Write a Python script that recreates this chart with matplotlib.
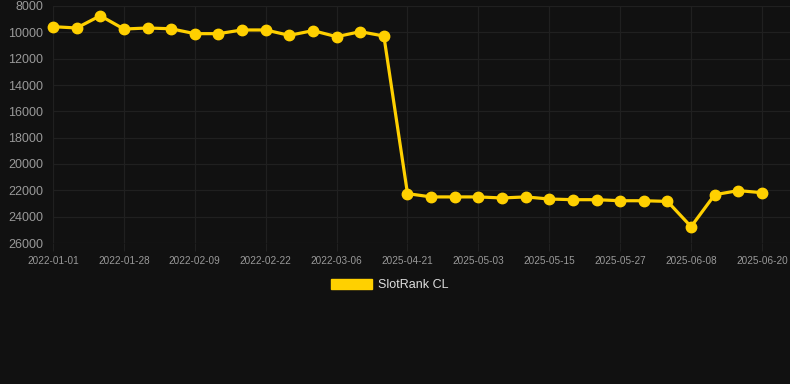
import matplotlib
matplotlib.use("Agg")
import matplotlib.pyplot as plt
from matplotlib.patches import Patch

plt.rcParams['font.family'] = ['Liberation Sans', 'DejaVu Sans']

dates = ["2022-01-01", "2022-01-10", "2022-01-19", "2022-01-28", "2022-02-01",
         "2022-02-05", "2022-02-09", "2022-02-13", "2022-02-18", "2022-02-22",
         "2022-02-26", "2022-03-02", "2022-03-06", "2022-03-10", "2022-03-14",
         "2025-04-21", "2025-04-25", "2025-04-29", "2025-05-03", "2025-05-07",
         "2025-05-11", "2025-05-15", "2025-05-19", "2025-05-23", "2025-05-27",
         "2025-05-31", "2025-06-04", "2025-06-08", "2025-06-12", "2025-06-16",
         "2025-06-20"]
ranks = [9570, 9670, 8740, 9750, 9670, 9730, 10100, 10100, 9820, 9820,
         10230, 9870, 10330, 9950, 10280,
         22250, 22500, 22500, 22500, 22580, 22500, 22660, 22710, 22710,
         22790, 22790, 22840, 24760, 22330, 22020, 22180]
series_name = "SlotRank CL"
y_ticks = [8000, 10000, 12000, 14000, 16000, 18000, 20000, 22000, 24000, 26000]

bg = "#111111"
grid_c = "#202020"
line_c = "#FFD000"

fig = plt.figure(figsize=(7.9, 3.84), dpi=100, facecolor=bg)
ax = fig.add_axes([53/790, 141/384, 737/790, 237/384], facecolor=bg)

x = list(range(len(dates)))
ax.plot(x, ranks, color=line_c, lw=2.3, marker="o", markersize=7.5,
        markerfacecolor=line_c, markeredgecolor=line_c, zorder=3, clip_on=False)

ax.set_ylim(26000, 8000)
ax.set_xlim(0, 30 + 28/23.63)
ax.set_yticks(y_ticks)
ax.set_yticklabels([str(v) for v in y_ticks])
tick_idx = list(range(0, len(dates), 3))
ax.set_xticks(tick_idx)
ax.set_xticklabels([dates[i] for i in tick_idx])

ax.grid(True, color=grid_c, lw=0.9)
ax.set_axisbelow(True)
for s in ax.spines.values():
    s.set_visible(False)
ax.tick_params(axis="y", colors="#999999", labelsize=9, length=0, pad=7)
ax.tick_params(axis="x", colors="#999999", labelsize=7.2, length=6, color=grid_c, pad=3)
for lab in ax.get_yticklabels() + ax.get_xticklabels():
    lab.set_color("#999999")

handle = Patch(facecolor=line_c, edgecolor=line_c)
leg = fig.legend([handle], [series_name], loc="center", bbox_to_anchor=(390/790, 1 - 285/384),
                 frameon=False, handlelength=3.3, handleheight=0.9, fontsize=9,
                 labelcolor="#dddddd", handletextpad=0.5)

fig.savefig("out.png", dpi=100, facecolor=bg)
